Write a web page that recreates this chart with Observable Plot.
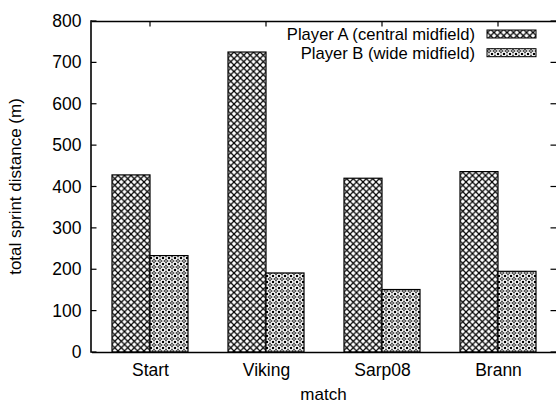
<!DOCTYPE html>
<html>
<head>
<meta charset="utf-8">
<script src="https://cdn.jsdelivr.net/npm/d3@7"></script>
<script src="https://cdn.jsdelivr.net/npm/@observablehq/plot@0.6"></script>
<style>
  html, body { margin: 0; padding: 0; background: white; }
  svg { display: block; }
</style>
</head>
<body>
<div id="chart"></div>
<script>
const matches = ["Start", "Viking", "Sarp08", "Brann"];
const playerA = [428, 725, 420, 436];
const playerB = [233, 191, 151, 195];
const seriesKeys = ["A", "B"];
const seriesNames = ["Player A (central midfield)", "Player B (wide midfield)"];
const yTicks = [0, 100, 200, 300, 400, 500, 600, 700, 800];
const xTitle = "match";
const yTitle = "total sprint distance (m)";

const dataA = matches.map((m, i) => ({match: m, player: "A", value: playerA[i]}));
const dataB = matches.map((m, i) => ({match: m, player: "B", value: playerB[i]}));

const W = 556, H = 403, ML = 91, MR = 0, MT = 21, MB = 51;
const FONT = "'Liberation Sans', Arial, Helvetica, sans-serif";

const plot = Plot.plot({
  width: W, height: H,
  marginLeft: ML, marginRight: MR, marginTop: MT, marginBottom: MB,
  style: {fontFamily: FONT, fontSize: "17.5px", color: "#000", background: "white", overflow: "visible"},
  fx: {domain: matches, padding: 0, tickSize: 0, tickPadding: 11, label: null},
  x: {domain: seriesKeys, paddingInner: 0, paddingOuter: 0.49, axis: null},
  y: {domain: [0, 800], ticks: yTicks, tickSize: 0, tickPadding: 11, label: null},
  marks: [
    Plot.barY(dataA, {fx: "match", x: "player", y: "value", fill: "url(#patA)", stroke: "#000", strokeWidth: 1.2, inset: 0}),
    Plot.barY(dataB, {fx: "match", x: "player", y: "value", fill: "url(#patB)", stroke: "#000", strokeWidth: 1.2, inset: 0}),
    Plot.ruleY([0], {stroke: "#000", strokeWidth: 1.6}),
    Plot.ruleY([800], {stroke: "#000", strokeWidth: 1.6})
  ]
});

const svg = d3.select(plot.tagName.toLowerCase() === "svg" ? plot : plot.querySelector("svg"));

// patterns
const defs = svg.insert("defs", ":first-child");
const pA = defs.append("pattern").attr("id", "patA").attr("patternUnits", "userSpaceOnUse")
  .attr("width", 6.5).attr("height", 6.5);
pA.append("rect").attr("width", 6.5).attr("height", 6.5).attr("fill", "white");
pA.append("path").attr("d", "M0,0L6.5,6.5M6.5,0L0,6.5").attr("stroke", "#000").attr("stroke-width", 1.25).attr("fill", "none");

const pB = defs.append("pattern").attr("id", "patB").attr("patternUnits", "userSpaceOnUse")
  .attr("width", 6).attr("height", 6);
pB.append("rect").attr("width", 6).attr("height", 6).attr("fill", "white");
pB.append("circle").attr("cx", 3).attr("cy", 3).attr("r", 1.4).attr("fill", "none").attr("stroke", "#000").attr("stroke-width", 0.9);
[[0,0],[6,0],[0,6],[6,6]].forEach(([cx, cy]) =>
  pB.append("rect").attr("x", cx - 1.1).attr("y", cy - 1.1).attr("width", 2.2).attr("height", 2.2).attr("fill", "#000"));
[[3,0],[0,3],[6,3],[3,6]].forEach(([cx, cy]) =>
  pB.append("rect").attr("x", cx - 0.5).attr("y", cy - 0.5).attr("width", 1).attr("height", 1).attr("fill", "#333"));

// frame and ticks from Plot's scales
const y = plot.scale("y");
const fx = plot.scale("fx");
const x0 = ML, x1 = W - MR, y0 = y.apply(0), y1 = y.apply(800);
const g = svg.append("g").attr("stroke", "#000").attr("fill", "none");
g.append("line").attr("x1", x0).attr("x2", x0).attr("y1", y0 + 0.8).attr("y2", y1 - 0.8).attr("stroke-width", 1.6);
yTicks.forEach(t => {
  const yy = y.apply(t);
  g.append("line").attr("x1", x0).attr("x2", x0 + 5.5).attr("y1", yy).attr("y2", yy).attr("stroke-width", 1.2);
  g.append("line").attr("x1", x1).attr("x2", x1 - 5.5).attr("y1", yy).attr("y2", yy).attr("stroke-width", 1.2);
});
matches.forEach(m => {
  const xx = fx.apply(m) + fx.bandwidth / 2;
  g.append("line").attr("x1", xx).attr("x2", xx).attr("y1", y1).attr("y2", y1 + 5.5).attr("stroke-width", 1.2);
});

// axis titles
const t = svg.append("g").attr("font-family", FONT).attr("font-size", "17px").attr("fill", "#000");
t.append("text").attr("x", (x0 + x1) / 2).attr("y", 400).attr("text-anchor", "middle").text(xTitle);
t.append("text").attr("transform", `translate(21,${(y0 + y1) / 2}) rotate(-90)`).attr("text-anchor", "middle").text(yTitle);

// legend (inside plot, top right)
const leg = svg.append("g").attr("font-family", FONT).attr("font-size", "16.6px");
seriesNames.forEach((name, i) => {
  const cy = 34 + i * 18.7;
  leg.append("text").attr("x", 475).attr("y", cy).attr("dy", "0.35em").attr("text-anchor", "end").attr("fill", "#000").text(name);
  leg.append("rect").attr("x", 487).attr("y", cy - 4).attr("width", 49).attr("height", 8)
    .attr("fill", i === 0 ? "url(#patA)" : "url(#patB)").attr("stroke", "#000").attr("stroke-width", 1);
});

document.getElementById("chart").appendChild(plot);
</script>
</body>
</html>
